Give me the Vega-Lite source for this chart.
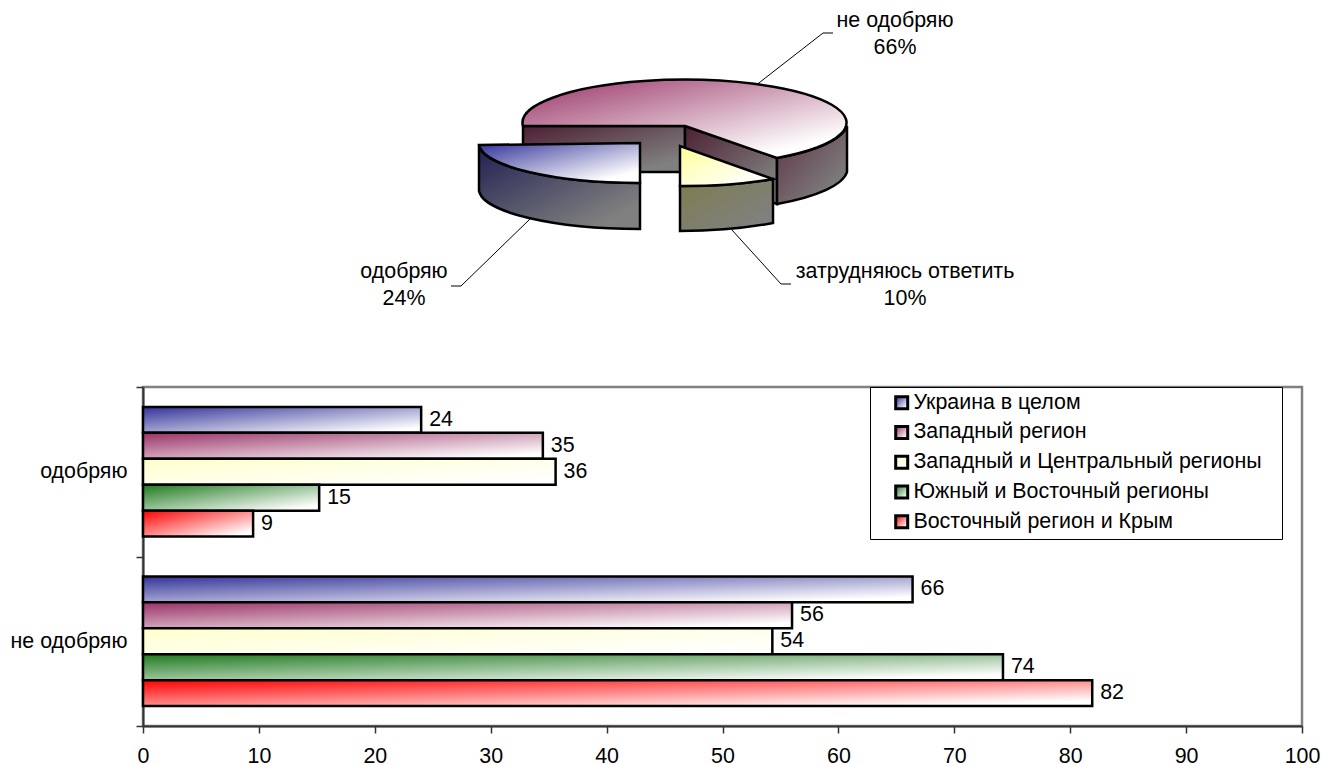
{
"$schema":"https://vega.github.io/schema/vega-lite/v6.json",
"background":"white",
"padding":{"left":8,"top":0,"right":5,"bottom":0},
"spacing":0,
"resolve":{"scale":{"fill":"independent","shape":"independent"},"legend":{"fill":"independent"}},
"config":{"font":"Liberation Sans","view":{"stroke":null},"concat":{"spacing":0}},
"vconcat":[
{"width":1159,"height":374,
"layer":[
{"data":{"values":[
{"leader":"не одобряю","x":70,"y":-40},{"leader":"не одобряю","x":138,"y":-93},{"leader":"не одобряю","x":148,"y":-93},
{"leader":"одобряю","x":-155,"y":93},{"leader":"одобряю","x":-224,"y":160},{"leader":"одобряю","x":-234,"y":160},
{"leader":"затрудняюсь ответить","x":47,"y":104},{"leader":"затрудняюсь ответить","x":96,"y":158},{"leader":"затрудняюсь ответить","x":106,"y":158}
]},
"mark":{"type":"line","color":"#000","strokeWidth":1},
"encoding":{"x":{"field":"x","type":"quantitative","axis":null,"scale":{"domain":[-542,617],"nice":false,"zero":false}},
"y":{"field":"y","type":"quantitative","axis":null,"scale":{"domain":[248,-126],"nice":false,"zero":false}},
"detail":{"field":"leader"},"order":{"field":"x"}}},
{"data":{"values":[
{"slice":"не одобряю","share":66,"face":"nl"},
{"slice":"не одобряю","share":66,"face":"nr"},
{"slice":"не одобряю","share":66,"face":"no"},
{"slice":"не одобряю","share":66,"face":"nt"},
{"slice":"одобряю","share":24,"face":"ao"},
{"slice":"одобряю","share":24,"face":"at"},
{"slice":"затрудняюсь ответить","share":10,"face":"do"},
{"slice":"затрудняюсь ответить","share":10,"face":"dt"}
]},
"mark":{"type":"point","filled":true,"opacity":1,"stroke":"#000","strokeWidth":2.5,"strokeJoin":"miter","size":4},
"encoding":{
"x":{"datum":0,"type":"quantitative"},
"y":{"datum":0,"type":"quantitative"},
"shape":{"field":"face","type":"nominal","legend":null,"scale":{"domain":["nl","nr","no","nt","ao","at","do","dt"],"range":[
"M-162,0L0,0L0,46L-162,46Z",
"M0,0L92,32L92,78L0,46Z",
"M92,32A162,43 0 0,0 162,0L162,46A162,43 0 0,1 92,78Z",
"M0,0L92,32A162,43 0 1,0 -162,0Z",
"M-206,19A161,40 0 0,0 -45,57L-45,103A161,40 0 0,1 -206,65Z",
"M-45,17L-206,19A161,40 0 0,0 -45,57Z",
"M-5,60A162,43 0 0,0 88,53L88,97A162,43 0 0,1 -5,105Z",
"M-5,20L-5,60A162,43 0 0,0 88,53Z"
]}},
"fill":{"field":"face","type":"nominal","legend":null,"scale":{"domain":["nl","nr","no","nt","ao","at","do","dt"],"range":[
{"expr":"{gradient:'linear',x1:0,y1:0,x2:1,y2:1,stops:[{offset:0,color:'#4d1f33'},{offset:0.85,color:'#808080'},{offset:1,color:'#808080'}]}"},
{"expr":"{gradient:'linear',x1:0,y1:0,x2:1,y2:1,stops:[{offset:0,color:'#4d1f33'},{offset:0.85,color:'#808080'},{offset:1,color:'#808080'}]}"},
{"expr":"{gradient:'linear',x1:0,y1:0,x2:1,y2:1,stops:[{offset:0,color:'#5c3346'},{offset:0.85,color:'#808080'},{offset:1,color:'#808080'}]}"},
{"expr":"{gradient:'linear',x1:0,y1:0,x2:1,y2:1,stops:[{offset:0,color:'#993366'},{offset:0.85,color:'#ffffff'},{offset:1,color:'#ffffff'}]}"},
{"expr":"{gradient:'linear',x1:0,y1:0,x2:1,y2:1,stops:[{offset:0,color:'#1f1f52'},{offset:0.85,color:'#808080'},{offset:1,color:'#808080'}]}"},
{"expr":"{gradient:'linear',x1:0,y1:0,x2:1,y2:1,stops:[{offset:0,color:'#333399'},{offset:0.85,color:'#ffffff'},{offset:1,color:'#ffffff'}]}"},
{"expr":"{gradient:'linear',x1:0,y1:0,x2:1,y2:1,stops:[{offset:0,color:'#7d7d4d'},{offset:0.85,color:'#808080'},{offset:1,color:'#808080'}]}"},
{"expr":"{gradient:'linear',x1:0,y1:0,x2:1,y2:1,stops:[{offset:0,color:'#ffff99'},{offset:0.85,color:'#ffffff'},{offset:1,color:'#ffffff'}]}"}
]}}
}},
{"data":{"values":[
{"slice":"не одобряю","label":"не одобряю\n66%","x":210,"y":-105},
{"slice":"одобряю","label":"одобряю\n24%","x":-281,"y":146},
{"slice":"затрудняюсь ответить","label":"затрудняюсь ответить\n10%","x":220,"y":146}
]},
"mark":{"type":"text","fontSize":21.4,"lineBreak":"\n","lineHeight":26.5,"align":"center","baseline":"middle","color":"#000"},
"encoding":{"x":{"field":"x","type":"quantitative"},"y":{"field":"y","type":"quantitative"},"text":{"field":"label"}}}
]},
{"width":1159,"height":339,
"view":{"stroke":"#808080","strokeWidth":2.5},
"data":{"values":[
{"answer":"одобряю","region":"Украина в целом","value":24,"label":"24"},
{"answer":"одобряю","region":"Западный регион","value":34.5,"label":"35"},
{"answer":"одобряю","region":"Западный и Центральный регионы","value":35.6,"label":"36"},
{"answer":"одобряю","region":"Южный и Восточный регионы","value":15.2,"label":"15"},
{"answer":"одобряю","region":"Восточный регион и Крым","value":9.5,"label":"9"},
{"answer":"не одобряю","region":"Украина в целом","value":66.4,"label":"66"},
{"answer":"не одобряю","region":"Западный регион","value":56,"label":"56"},
{"answer":"не одобряю","region":"Западный и Центральный регионы","value":54.3,"label":"54"},
{"answer":"не одобряю","region":"Южный и Восточный регионы","value":74.2,"label":"74"},
{"answer":"не одобряю","region":"Восточный регион и Крым","value":81.9,"label":"82"}
]},
"encoding":{
"y":{"field":"answer","type":"nominal","sort":["одобряю","не одобряю"],"title":null,"scale":{"padding":0},
"axis":{"tickBand":"extent","tickSize":7,"tickColor":"#333","tickWidth":1.5,"domainColor":"#333","domainWidth":2,"labelFontSize":21.4,"labelColor":"#000","labelPadding":9,"labelAngle":0,"grid":false}},
"yOffset":{"field":"region","type":"nominal","sort":["Украина в целом","Западный регион","Западный и Центральный регионы","Южный и Восточный регионы","Восточный регион и Крым"],"scale":{"paddingInner":0,"paddingOuter":0.77}},
"x":{"field":"value","type":"quantitative","title":null,"scale":{"domain":[0,100],"nice":false},
"axis":{"values":[0,10,20,30,40,50,60,70,80,90,100],"tickSize":7,"tickColor":"#333","tickWidth":1.5,"domainColor":"#333","domainWidth":2,"labelFontSize":21.4,"labelColor":"#000","labelPadding":12,"grid":false,"labelFlush":false}}
},
"layer":[
{"mark":{"type":"bar","stroke":"#000","strokeWidth":2.5},
"encoding":{"fill":{"field":"region","type":"nominal","title":null,
"scale":{"domain":["Украина в целом","Западный регион","Западный и Центральный регионы","Южный и Восточный регионы","Восточный регион и Крым"],"range":[
{"expr":"{gradient:'linear',x1:0,y1:0,x2:1,y2:1,stops:[{offset:0,color:'#333399'},{offset:0.9,color:'#ffffff'},{offset:1,color:'#ffffff'}]}"},
{"expr":"{gradient:'linear',x1:0,y1:0,x2:1,y2:1,stops:[{offset:0,color:'#993366'},{offset:0.9,color:'#ffffff'},{offset:1,color:'#ffffff'}]}"},
{"expr":"{gradient:'linear',x1:0,y1:0,x2:1,y2:1,stops:[{offset:0,color:'#ffffcc'},{offset:0.9,color:'#ffffff'},{offset:1,color:'#ffffff'}]}"},
{"expr":"{gradient:'linear',x1:0,y1:0,x2:1,y2:1,stops:[{offset:0,color:'#1f7a1f'},{offset:0.9,color:'#ffffff'},{offset:1,color:'#ffffff'}]}"},
{"expr":"{gradient:'linear',x1:0,y1:0,x2:1,y2:1,stops:[{offset:0,color:'#ff0000'},{offset:0.9,color:'#ffffff'},{offset:1,color:'#ffffff'}]}"}
]},
"legend":{"orient":"none","legendX":727,"legendY":0,"padding":5,"symbolOffset":16,"symbolType":"square","symbolSize":144,"symbolStrokeColor":"#000","symbolStrokeWidth":3,"labelFontSize":21.4,"labelColor":"#000","labelLimit":500,"labelOffset":1,"rowPadding":4.75,"fillColor":"#fff","strokeColor":"#000","labelExpr":"datum.label + '\u2800'"}}}},
{"mark":{"type":"text","align":"left","baseline":"middle","dx":8,"fontSize":21.4,"color":"#000"},
"encoding":{"text":{"field":"label"}}}
]}
]
}
